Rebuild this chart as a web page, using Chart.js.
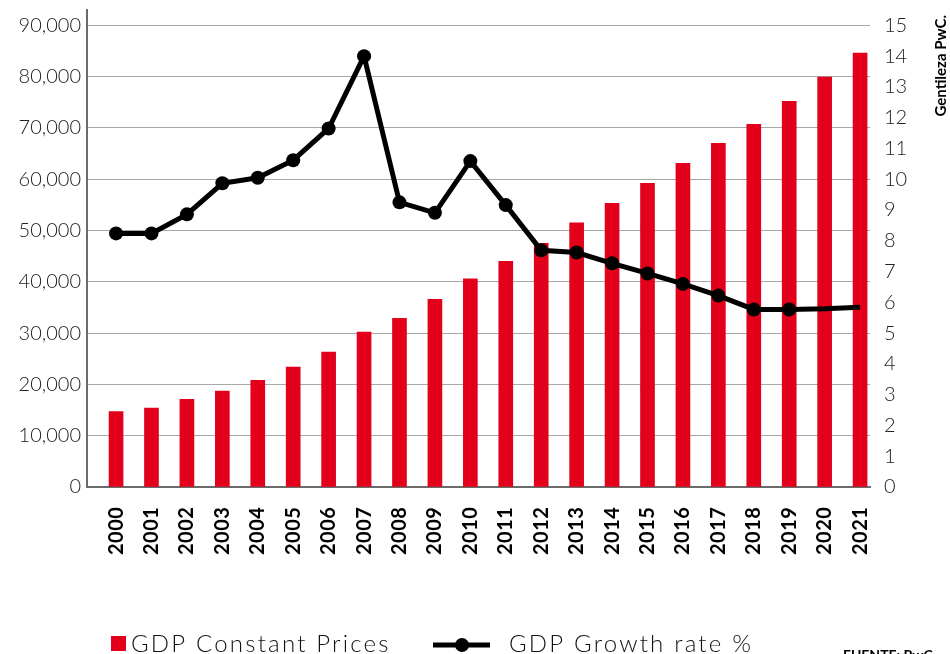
<!DOCTYPE html>
<html><head><meta charset="utf-8">
<script src="https://cdn.jsdelivr.net/npm/chart.js@4.4.0/dist/chart.umd.min.js"></script>
<style>html,body{margin:0;padding:0;background:#fff;}#wrap{width:950px;height:654px;position:relative;overflow:hidden}</style>
</head><body><div id="wrap"><canvas id="c" width="950" height="654"></canvas></div>
<script>
const years = ['2000','2001','2002','2003','2004','2005','2006','2007','2008','2009','2010','2011','2012','2013','2014','2015','2016','2017','2018','2019','2020','2021'];
const gdpConstant = [14700,15400,17100,18700,20800,23400,26300,30200,32900,36600,40600,44000,47500,51500,55300,59200,63100,67000,70700,75200,79900,84600];
const growthRate = [8.24,8.24,8.86,9.87,10.05,10.62,11.65,14.0,9.25,8.91,10.59,9.16,7.69,7.62,7.27,6.94,6.6,6.22,5.77,5.77,5.79,5.84];
const leftTickValues = [0,10000,20000,30000,40000,50000,60000,70000,80000,90000];
const rightTickValues = [0,1,2,3,4,5,6,7,8,9,10,11,12,13,14,15];
const seriesNames = ['GDP Constant Prices','GDP Growth rate %'];
const creditText = 'Gentileza PwC.';
const sourceText = 'FUENTE: PwC';

const RED = '#e2001a';
const TICK_FONT = {family: 'Lato', size: 20, weight: 300};

const overlay = {
  id: 'overlay',
  afterDraw(chart) {
    const ctx = chart.ctx;
    const xs = chart.scales.x;
    ctx.save();
    ctx.fillStyle = '#000';
    ctx.font = 'bold 20px Lato';
    ctx.textAlign = 'left';
    ctx.textBaseline = 'middle';
    ctx.letterSpacing = '0.5px';
    years.forEach((y, i) => {
      const px = xs.getPixelForValue(i);
      ctx.save();
      ctx.translate(px, 555);
      ctx.rotate(-Math.PI / 2);
      ctx.fillText(y, 0, 0);
      ctx.restore();
    });
    ctx.font = '300 24px Lato';
    ctx.textBaseline = 'alphabetic';
    ctx.fillStyle = RED;
    ctx.fillRect(111, 636, 15, 15);
    ctx.fillStyle = '#111';
    ctx.letterSpacing = '2.2px';
    ctx.fillText(seriesNames[0], 131, 652);
    ctx.strokeStyle = '#000';
    ctx.lineWidth = 5;
    ctx.beginPath(); ctx.moveTo(433, 645); ctx.lineTo(490, 645); ctx.stroke();
    ctx.fillStyle = '#000';
    ctx.beginPath(); ctx.arc(462, 645, 7, 0, Math.PI * 2); ctx.fill();
    ctx.fillStyle = '#111';
    ctx.fillText(seriesNames[1], 509, 652);
    ctx.letterSpacing = '0px';
    ctx.font = 'bold 14px Lato';
    ctx.textBaseline = 'top';
    ctx.fillStyle = '#000';
    ctx.fillText(sourceText, 843, 648);
    ctx.save();
    ctx.translate(941, 15);
    ctx.rotate(-Math.PI / 2);
    ctx.textAlign = 'right';
    ctx.textBaseline = 'middle';
    ctx.font = 'bold 15px Lato';
    ctx.fillText(creditText, 0, 0);
    ctx.restore();
    ctx.restore();
  }
};

new Chart(document.getElementById('c'), {
  data: {
    datasets: [
      {
        type: 'line',
        label: seriesNames[1],
        data: growthRate.map((v, i) => ({x: i, y: v})),
        yAxisID: 'y2',
        borderColor: '#000',
        borderWidth: 5,
        pointBackgroundColor: '#000',
        pointBorderColor: '#000',
        pointBorderWidth: 0,
        pointRadius: c => (c.dataIndex >= 20 ? 0 : 7),
        tension: 0,
        order: 0
      },
      {
        type: 'bar',
        label: seriesNames[0],
        data: gdpConstant.map((v, i) => ({x: i, y: v})),
        yAxisID: 'y',
        backgroundColor: RED,
        borderWidth: 0,
        barThickness: 14,
        order: 1
      }
    ]
  },
  options: {
    responsive: false,
    animation: false,
    layout: {padding: {top: 10, left: 0, right: 0, bottom: 0}},
    plugins: {legend: {display: false}, tooltip: {enabled: false}},
    scales: {
      x: {
        type: 'linear',
        offset: false,
        min: -0.82,
        max: 21.28,
        grid: {display: false, drawTicks: false, offset: false},
        border: {display: true, color: '#6b6b6b', width: 2},
        ticks: {display: false, stepSize: 1},
        afterFit: s => { s.height = 167; s.paddingLeft = 0; s.paddingRight = 0; }
      },
      y: {
        position: 'left',
        min: 0,
        max: 93000,
        afterBuildTicks: s => { s.ticks = leftTickValues.map(v => ({value: v})); },
        grid: {color: '#a8a8a8', lineWidth: 1, drawTicks: false},
        border: {display: true, color: '#6b6b6b', width: 2},
        ticks: {
          padding: 6,
          color: '#222',
          font: TICK_FONT,
          callback: v => Number(v).toLocaleString('en-US')
        },
        afterFit: s => { s.width = 87; s.paddingTop = 0; s.paddingBottom = 0; }
      },
      y2: {
        position: 'right',
        min: 0,
        max: 15.5,
        afterBuildTicks: s => { s.ticks = rightTickValues.map(v => ({value: v})); },
        grid: {display: false, drawTicks: false},
        border: {display: false},
        ticks: {padding: 14, color: '#222', font: TICK_FONT},
        afterFit: s => { s.width = 80; s.paddingTop = 0; s.paddingBottom = 0; }
      }
    }
  },
  plugins: [overlay]
});
</script>
</body></html>
